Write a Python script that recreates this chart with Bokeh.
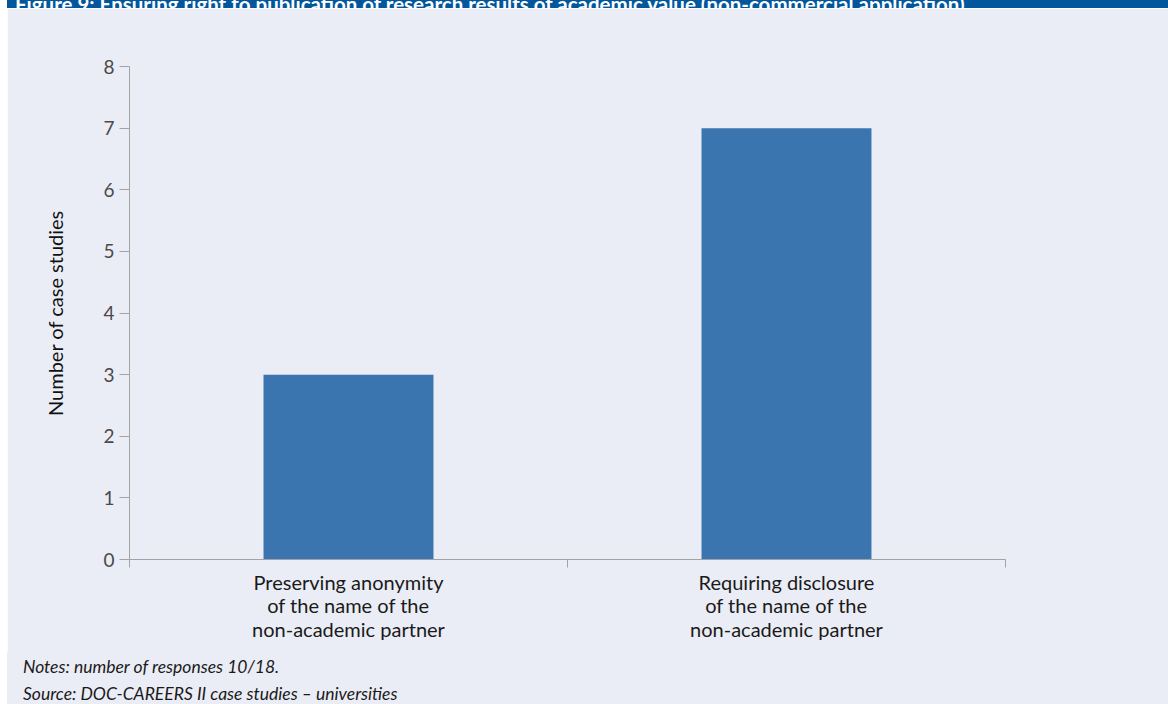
from bokeh.plotting import figure
from bokeh.models import Div, FixedTicker, Range1d, ColumnDataSource
from bokeh.layouts import column
from bokeh.embed import file_html
from bokeh.resources import INLINE

# ---- data ----
categories = [
    "Preserving anonymity\nof the name of the\nnon-academic partner",
    "Requiring disclosure\nof the name of the\nnon-academic partner",
]
values = [3, 7]
y_ticks = [0, 1, 2, 3, 4, 5, 6, 7, 8]
title_text = ("Figure 9: Ensuring right to publication of research results of "
              "academic value (non-commercial application)")
y_label = "Number of case studies"
notes_text = "Notes: number of responses 10/18."
source_text = "Source: DOC-CAREERS II case studies \u2013 universities"

BG = "#EBEDF6"
BAND = "#02569B"
BAR = "#3A75AF"
AXIS = "#A3A3A3"
FONT = "Lato"

x_centers = [i + 0.5 for i in range(len(categories))]
x_bounds = list(range(len(categories) + 1))
src = ColumnDataSource(dict(x=x_centers, top=values))

p = figure(width=1161, height=644,
           x_range=Range1d(0, len(categories)), y_range=Range1d(0, 8),
           output_backend="svg", toolbar_location=None,
           min_border_left=122, min_border_right=163,
           min_border_top=58, min_border_bottom=93,
           background_fill_color=BG, border_fill_color=BG,
           outline_line_color=BG, outline_line_width=2, margin=0)

p.vbar(x="x", top="top", width=0.388, source=src, fill_color=BAR, line_color=None)

p.xgrid.visible = False
p.ygrid.visible = False

yax = p.yaxis[0]
yax.ticker = FixedTicker(ticks=y_ticks)
yax.minor_tick_line_color = None
yax.major_tick_in = 0
yax.major_tick_out = 10
yax.major_tick_line_color = AXIS
yax.axis_line_color = AXIS
yax.major_label_text_font = FONT
yax.major_label_text_font_size = "19px"
yax.major_label_text_color = "#4a4a4a"
yax.major_label_standoff = 5
yax.axis_label = y_label
yax.axis_label_text_font = FONT
yax.axis_label_text_font_size = "20px"
yax.axis_label_text_font_style = "normal"
yax.axis_label_text_color = "#111111"
yax.axis_label_standoff = 33

# x axis: labels at bar centres, boundary ticks drawn as minor ticks
xax = p.xaxis[0]
xax.ticker = FixedTicker(ticks=x_centers, minor_ticks=x_bounds)
xax.major_label_overrides = {xc: c for xc, c in zip(x_centers, categories)}
xax.major_tick_line_color = None
xax.major_tick_in = 0
xax.major_tick_out = 0
xax.minor_tick_in = 0
xax.minor_tick_out = 8
xax.minor_tick_line_color = AXIS
xax.axis_line_color = AXIS
xax.major_label_standoff = 2
xax.major_label_text_font = FONT
xax.major_label_text_font_size = "20px"
xax.major_label_text_color = "#1a1a1a"
xax.major_label_text_line_height = 0.98

band = Div(text=('<div style="margin-top:-17px;margin-left:8px;white-space:nowrap;'
                 'font-family:Lato;font-weight:bold;font-size:20.5px;line-height:22px;'
                 'color:white;">' + title_text + '</div>'),
           width=1161, height=8, margin=0,
           styles={"background-color": BAND, "overflow": "hidden"})

notes = Div(text=('<div style="font-family:Lato;font-style:italic;font-size:17.5px;'
                  'line-height:27px;color:#1a1a1a;padding-left:16px;padding-top:1px;">'
                  + notes_text + '<br>' + source_text + '</div>'),
            width=1161, height=52, margin=0,
            styles={"background-color": BG})

layout = column(band, p, notes, margin=(0, 0, 0, 7), spacing=0)

open("out.html", "w").write(file_html(layout, INLINE))
